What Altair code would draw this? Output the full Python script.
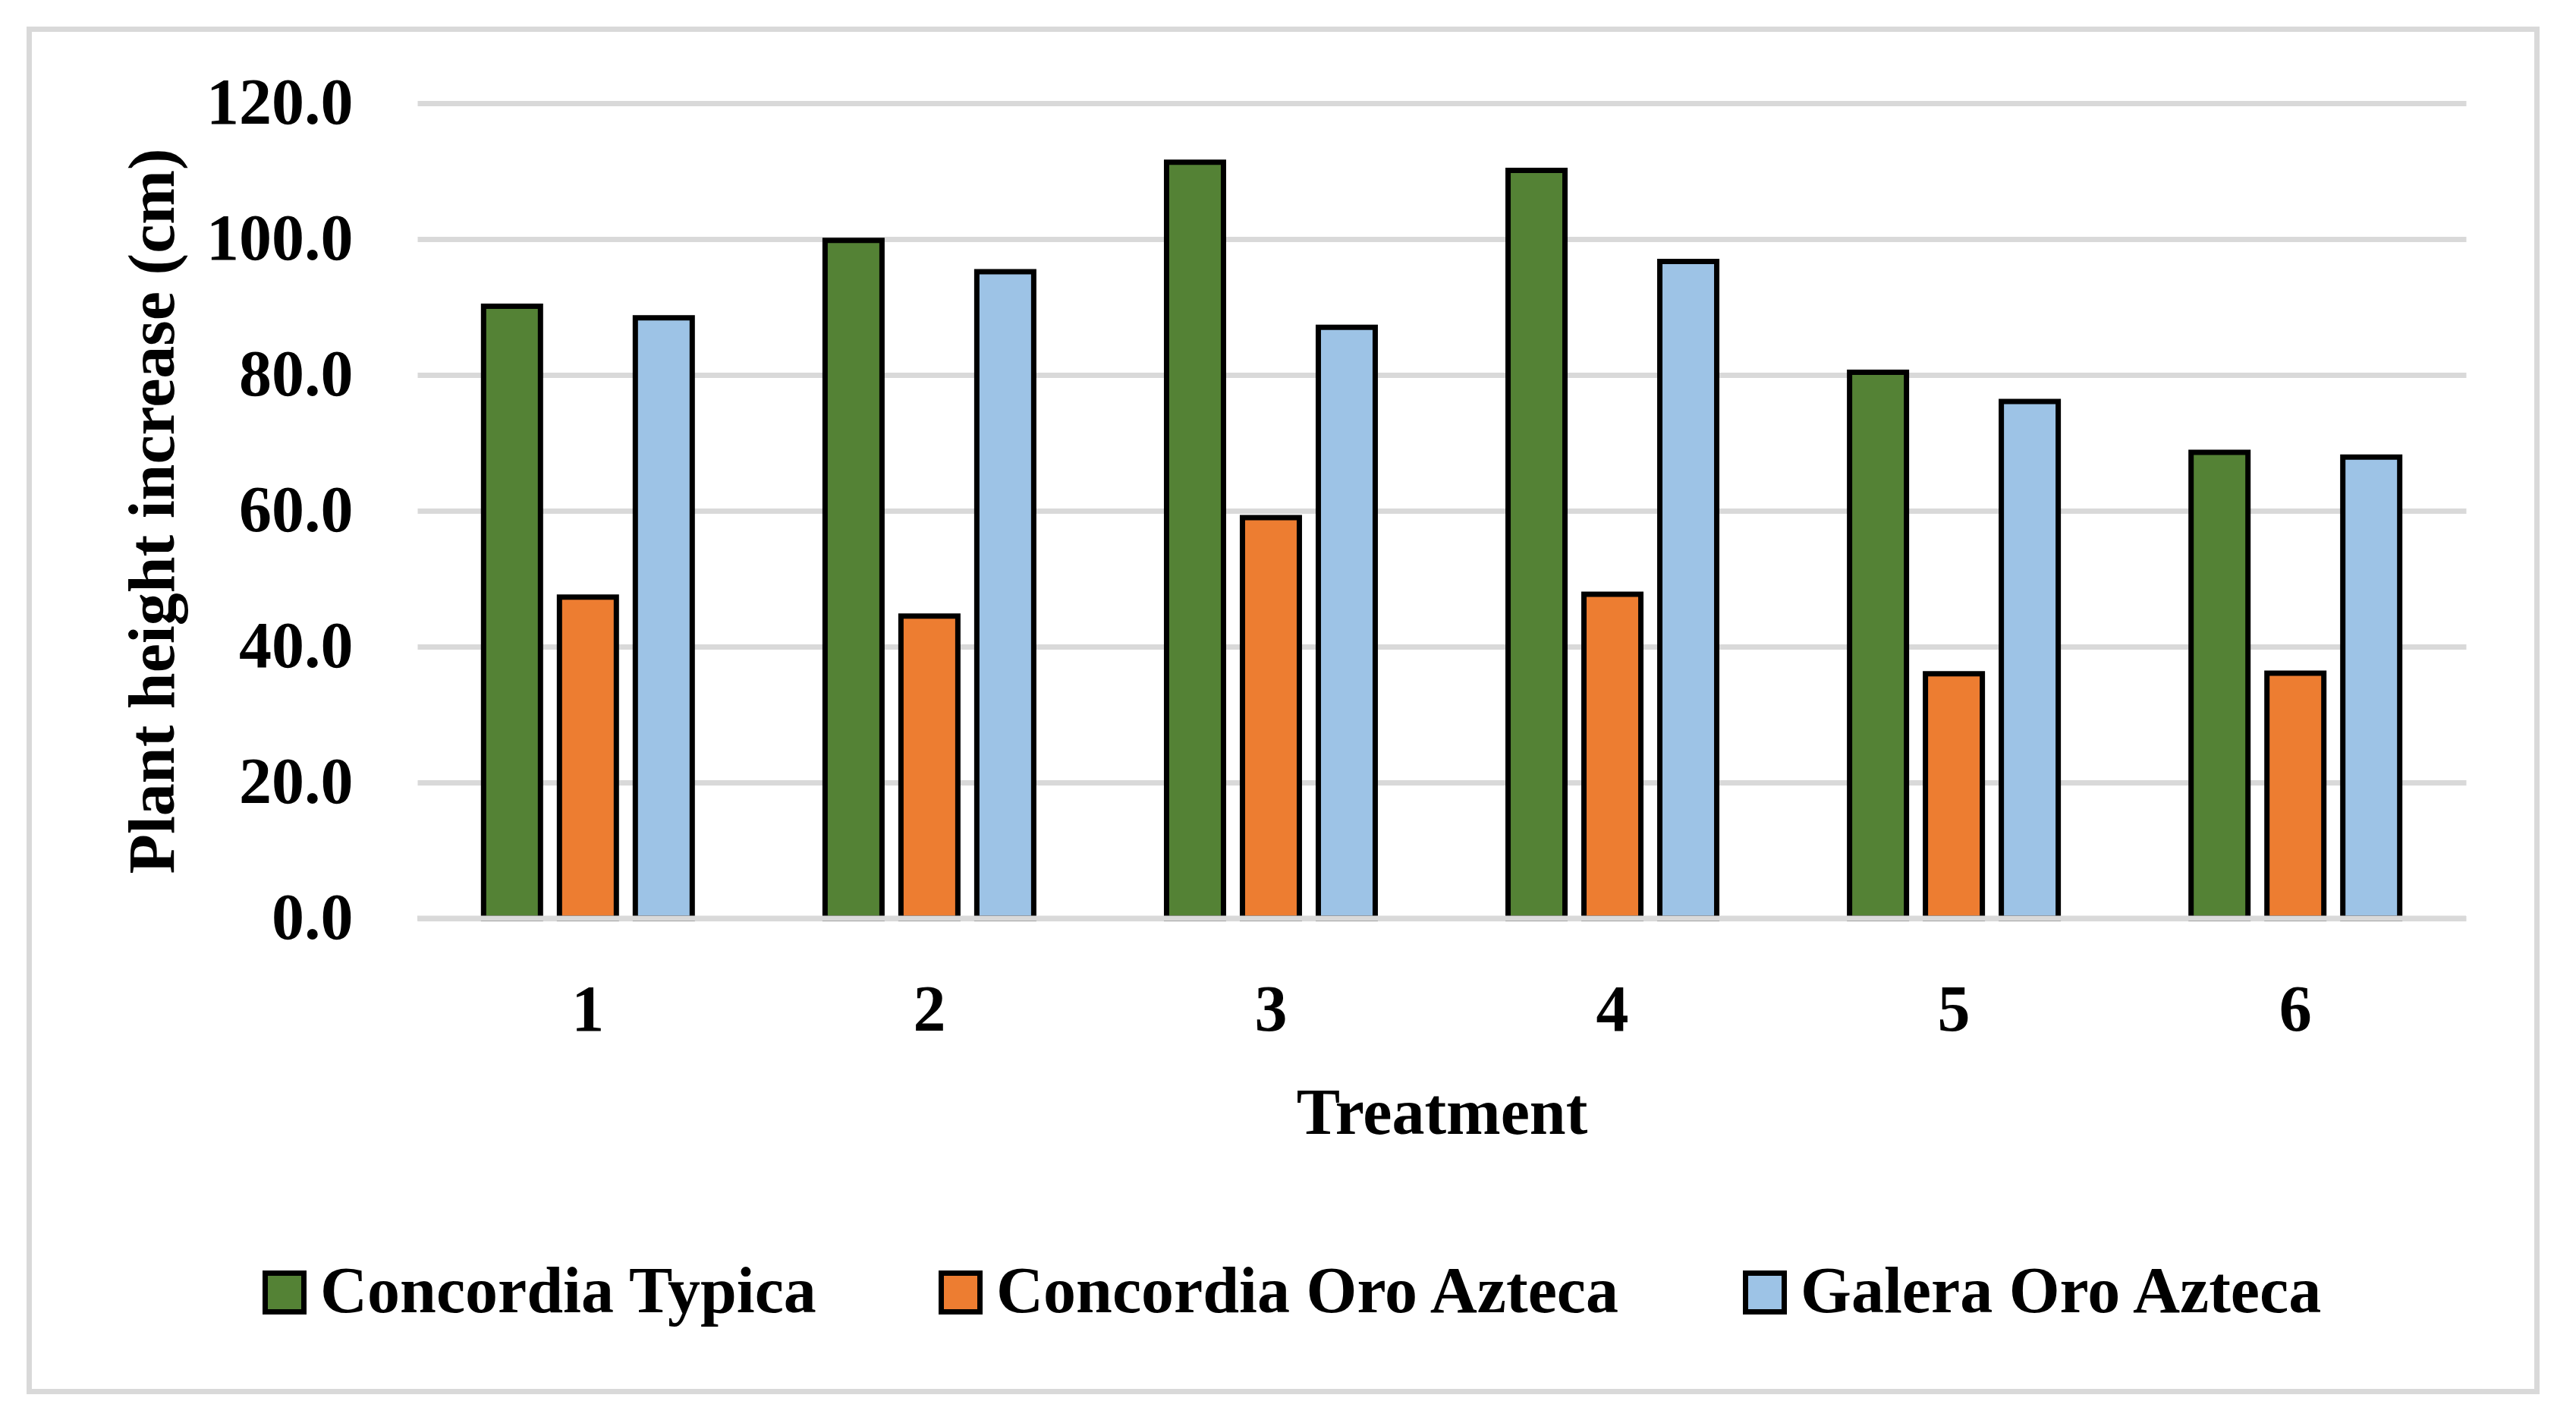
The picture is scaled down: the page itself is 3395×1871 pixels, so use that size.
import altair as alt
import pandas as pd

treatments = ["1", "2", "3", "4", "5", "6"]
series_names = ["Concordia Typica", "Concordia Oro Azteca", "Galera Oro Azteca"]
concordia_typica = [90.1, 99.8, 111.3, 110.1, 80.4, 68.6]
concordia_oro_azteca = [47.3, 44.5, 59.0, 47.7, 36.0, 36.1]
galera_oro_azteca = [88.4, 95.2, 87.0, 96.7, 76.1, 67.9]
colors = ["#548235", "#ED7D31", "#9DC3E6"]
y_ticks = [0, 20, 40, 60, 80, 100, 120]

rows = []
for name, vals in zip(series_names, [concordia_typica, concordia_oro_azteca, galera_oro_azteca]):
    for t, v in zip(treatments, vals):
        rows.append({"Treatment": t, "Variety": name, "Height": v})
df = pd.DataFrame(rows)

FONT = "Liberation Serif"
FS = 86
GRID = "#d9d9d9"

bars = alt.Chart(df).mark_bar(stroke="black", strokeWidth=7).encode(
    x=alt.X(
        "Treatment:N",
        sort=treatments,
        scale=alt.Scale(paddingInner=0.389, paddingOuter=0.194),
        axis=alt.Axis(
            title="Treatment",
            labelAngle=0,
            labelPadding=79,
            labelLimit=1000,
            ticks=False,
            tickSize=0,
            domain=False,
            grid=False,
            titleBaseline="alphabetic",
            titleY=283,
        ),
    ),
    xOffset=alt.XOffset(
        "Variety:N",
        sort=series_names,
        scale=alt.Scale(paddingInner=0.25, paddingOuter=0),
    ),
    y=alt.Y(
        "Height:Q",
        scale=alt.Scale(domain=[0, 120], nice=False),
        axis=alt.Axis(
            title="Plant height increase (cm)",
            values=y_ticks,
            format=".1f",
            ticks=False,
            tickSize=0,
            domain=False,
            labelPadding=85,
            labelLimit=1000,
            gridColor=GRID,
            gridWidth=7,
            titleAngle=270,
            titleBaseline="alphabetic",
            titleAlign="center",
            titleX=-322,
            titleY=537,
            titleLimit=3000,
        ),
    ),
    color=alt.Color(
        "Variety:N",
        sort=series_names,
        scale=alt.Scale(domain=series_names, range=colors),
        legend=alt.Legend(
            title=None,
            orient="none",
            legendX=-218,
            legendY=1524,
            direction="horizontal",
            symbolType="square",
            symbolSize=2601,
            symbolStrokeColor="black",
            symbolStrokeWidth=7,
            symbolOpacity=1,
            labelFont=FONT,
            labelFontSize=FS,
            labelFontWeight="bold",
            labelColor="black",
            labelLimit=3000,
            labelOffset=4,
            columnPadding=145,
            padding=0,
        ),
    ),
)

baseline = alt.Chart(pd.DataFrame({"zero": [0]})).mark_rule(
    color=GRID, strokeWidth=7
).encode(y=alt.Y("zero:Q"))

frame = alt.Chart(pd.DataFrame({"a": [0]})).mark_rect(
    fill="transparent", stroke=GRID, strokeWidth=7
).encode(
    x=alt.value(-511.5),
    x2=alt.value(2793.5),
    y=alt.value(-97.5),
    y2=alt.value(1697.5),
)

chart = alt.layer(bars, baseline, frame).properties(
    width=2700,
    height=1074,
    padding={"left": 27, "top": 27, "right": 5, "bottom": 5},
    background="white",
).configure_view(
    stroke=None
).configure_axis(
    labelFont=FONT,
    labelFontSize=FS,
    labelFontWeight="bold",
    labelColor="black",
    titleFont=FONT,
    titleFontSize=FS,
    titleFontWeight="bold",
    titleColor="black",
)

chart.save("out.html", embed_options={"renderer": "svg", "actions": False})
